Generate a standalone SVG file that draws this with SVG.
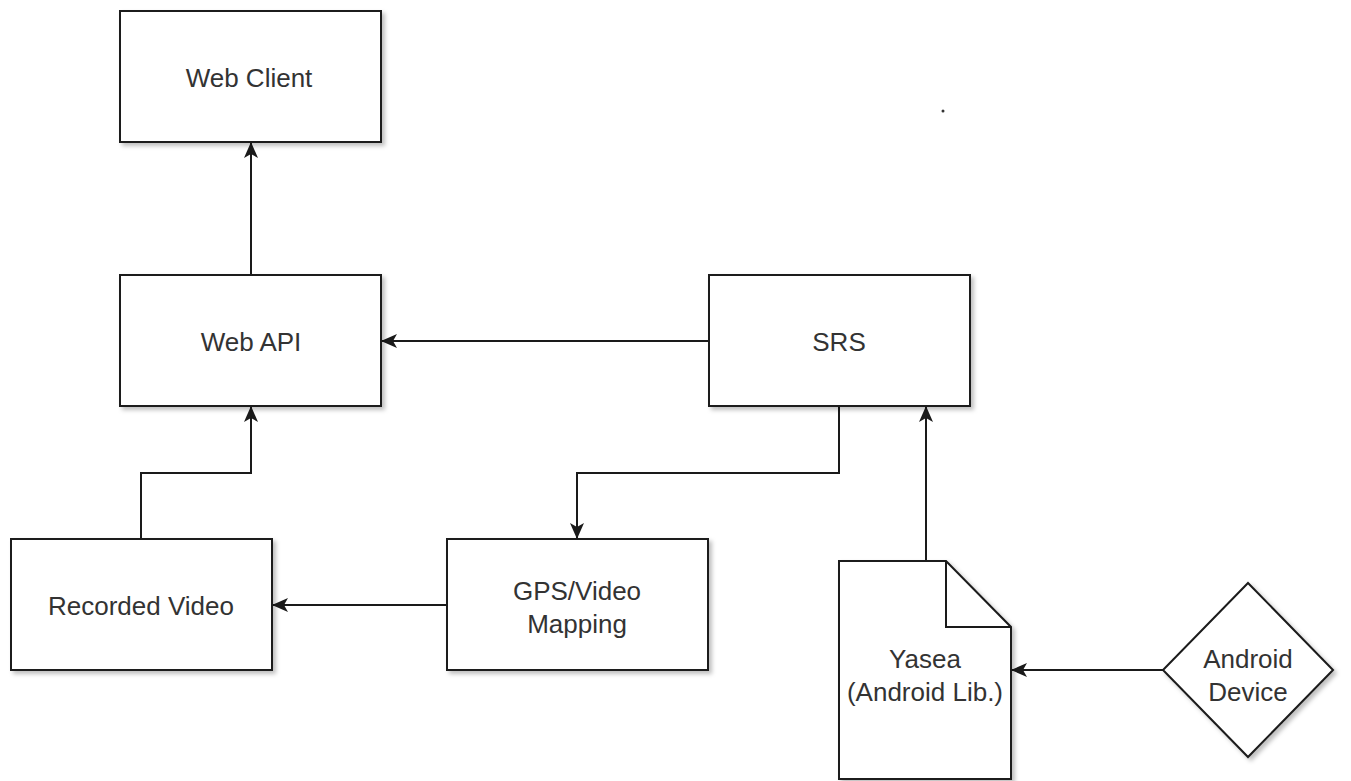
<svg xmlns="http://www.w3.org/2000/svg" width="1351" height="781" viewBox="0 0 1351 781">
  <style>
    .shape { fill: #ffffff; stroke: #1a1a1a; stroke-width: 2; filter: url(#shadow); }
    .label { font-family: "Liberation Sans", Arial, sans-serif; font-size: 26px; fill: #333333; text-anchor: middle; }
    .edge { fill: none; stroke: #1a1a1a; stroke-width: 2; marker-end: url(#arrow); }
  </style>
  <defs>
    <filter id="shadow" x="-10%" y="-10%" width="130%" height="130%">
      <feDropShadow dx="3" dy="3" stdDeviation="2" flood-color="#000000" flood-opacity="0.25"/>
    </filter>
    <marker id="arrow" viewBox="0 0 16 14" refX="15" refY="7" markerWidth="16" markerHeight="14" markerUnits="userSpaceOnUse" orient="auto">
      <path d="M0,0 L16,7 L0,14 L4,7 Z" fill="#1a1a1a"/>
    </marker>
  </defs>
  <rect width="1351" height="781" fill="#ffffff"/>

  <g id="connectors">
    <path class="edge" d="M251,275 L251,143"/>
    <path class="edge" d="M709,341 L382,341"/>
    <path class="edge" d="M839,406 L839,473 L577,473 L577,538"/>
    <path class="edge" d="M447,605 L273,605"/>
    <path class="edge" d="M141,539 L141,473 L251,473 L251,407"/>
    <path class="edge" d="M926,561 L926,407"/>
    <path class="edge" d="M1163,670 L1012,670"/>
  </g>

  <g id="web-client">
    <rect class="shape" x="120" y="11" width="261" height="131"/>
    <text class="label" x="249" y="87">Web Client</text>
  </g>
  <g id="web-api">
    <rect class="shape" x="120" y="275" width="261" height="131"/>
    <text class="label" x="251" y="351">Web API</text>
  </g>
  <g id="srs">
    <rect class="shape" x="709" y="275" width="261" height="131"/>
    <text class="label" x="839" y="351">SRS</text>
  </g>
  <g id="recorded-video">
    <rect class="shape" x="11" y="539" width="261" height="131"/>
    <text class="label" x="141" y="615">Recorded Video</text>
  </g>
  <g id="gps-video-mapping">
    <rect class="shape" x="447" y="539" width="261" height="131"/>
    <text class="label" x="577" y="600">GPS/Video</text>
    <text class="label" x="577" y="633">Mapping</text>
  </g>
  <g id="yasea">
    <path class="shape" d="M839,561 L946,561 L1011,627 L1011,779 L839,779 Z"/>
    <path d="M946,561 L946,627 L1011,627" fill="none" stroke="#1a1a1a" stroke-width="2"/>
    <text class="label" x="925" y="668">Yasea</text>
    <text class="label" x="925" y="701">(Android Lib.)</text>
  </g>
  <g id="android-device">
    <path class="shape" d="M1248,583 L1333,670 L1248,757 L1163,670 Z"/>
    <text class="label" x="1248" y="668">Android</text>
    <text class="label" x="1248" y="701">Device</text>
  </g>

  <circle cx="943" cy="111" r="1.5" fill="#333333"/>
</svg>
